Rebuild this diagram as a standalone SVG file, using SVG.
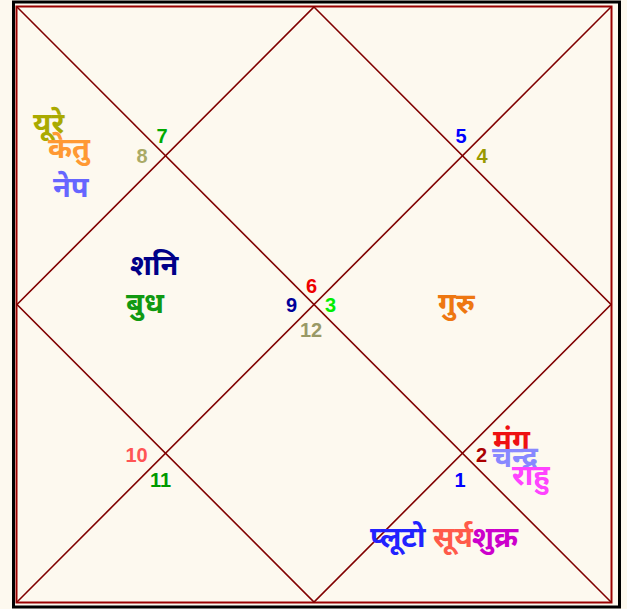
<svg xmlns="http://www.w3.org/2000/svg" width="627" height="609" viewBox="0 0 627 609">
<style>
.num{font-family:"Liberation Sans",Arial,sans-serif;font-size:20px;font-weight:bold;text-anchor:middle}
.pl{font-family:"Noto Sans","Noto Sans Devanagari","Lohit Devanagari",sans-serif;font-size:29px;font-weight:bold}
.ln{stroke:#800000;stroke-width:1.6;fill:none}
</style>
<rect x="0" y="0" width="627" height="609" fill="#fdf9ef"/>
<rect x="13.5" y="2" width="606" height="605" fill="#fdf9ef" stroke="#000" stroke-width="3"/>
<rect x="16.5" y="6.5" width="595" height="596" fill="#fdf9ef" stroke="#990000" stroke-width="2"/>
<g id="connectors">
<line class="ln" x1="17" y1="7" x2="611" y2="602"/>
<line class="ln" x1="611" y1="7" x2="17" y2="602"/>
<polygon class="ln" points="314,7 611,304.5 314,602 17,304.5"/>
</g>
<g id="house-top-left">
<text class="num" x="162" y="143" fill="#00aa00">7</text>
<text class="num" x="142" y="163" fill="#aaaa66">8</text>
<text class="pl" x="33" y="133" fill="#aaaa00">यूरे</text>
<text class="pl" x="48" y="158" fill="#ff9933">केतु</text>
<text class="pl" x="53" y="197" fill="#6666ff">नेप</text>
</g>
<g id="house-left">
<text class="pl" x="130" y="275" fill="#000088">शनि</text>
<text class="pl" x="126" y="313" fill="#119911">बुध</text>
</g>
<g id="house-center">
<text class="num" x="311.5" y="293" fill="#ee0000">6</text>
<text class="num" x="291.5" y="312" fill="#000099">9</text>
<text class="num" x="330.5" y="312" fill="#00ee00">3</text>
<text class="num" x="311" y="337" fill="#999966">12</text>
</g>
<g id="house-top-right">
<text class="num" x="461" y="143" fill="#0000ff">5</text>
<text class="num" x="482" y="163" fill="#999900">4</text>
</g>
<g id="house-right">
<text class="pl" x="438" y="313" fill="#ee7711">गुरु</text>
</g>
<g id="house-bottom-left">
<text class="num" x="136.5" y="462" fill="#ff5555">10</text>
<text class="num" x="160.5" y="487" fill="#009900">11</text>
</g>
<g id="house-bottom-right">
<text class="num" x="481.5" y="462" fill="#aa0000">2</text>
<text class="num" x="460" y="487" fill="#0000ff">1</text>
<text class="pl" x="493" y="450" fill="#ee1111">मंग</text>
<text class="pl" x="492" y="467" fill="#8888ff">चन्द्र</text>
<text class="pl" x="512" y="485" fill="#ff44ff">राहु</text>
</g>
<g id="house-bottom">
<text class="pl" x="370" y="547" fill="#2222ff">प्लूटो</text>
<text class="pl" x="433" y="547" fill="#ff5a4a">सूर्य</text>
<text class="pl" x="472" y="547" fill="#cc00cc">शुक्र</text>
</g>
</svg>
